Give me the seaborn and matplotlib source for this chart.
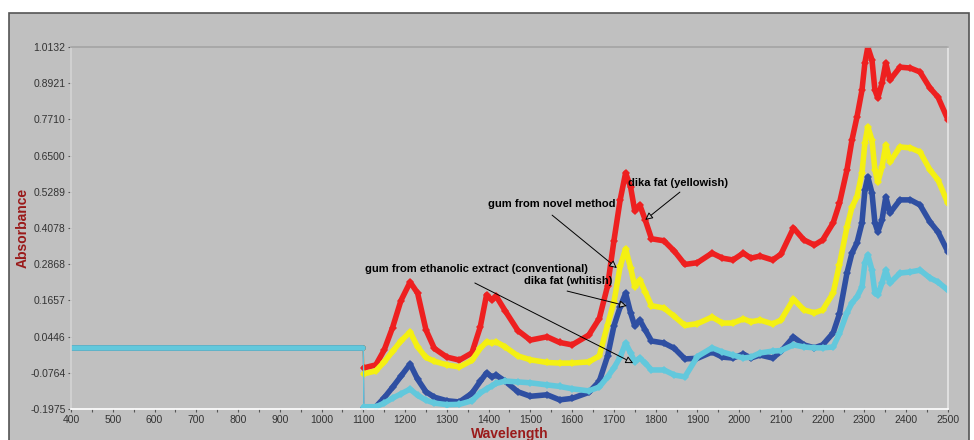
import matplotlib.pyplot as plt
import seaborn as sns
import pandas as pd
from matplotlib.patches import Rectangle
from matplotlib.ticker import MultipleLocator

# flat baseline section (all four spectra share it)
flat_wl = [400, 500, 600, 700, 800, 900, 1000, 1100]
flat_abs = [0.005, 0.005, 0.005, 0.005, 0.005, 0.005, 0.005, 0.005]

wl = [1101, 1130, 1150, 1170, 1190, 1212, 1230, 1250, 1270, 1300, 1330, 1360, 1380, 1395,
      1408, 1418, 1440, 1470, 1500, 1540, 1570, 1600, 1640, 1665, 1685, 1700, 1715, 1728,
      1740, 1750, 1762, 1775, 1790, 1820, 1845, 1870, 1900, 1935, 1960, 1985, 2010, 2028,
      2050, 2080, 2100, 2130, 2155, 2180, 2200, 2225, 2240, 2258, 2270, 2282, 2294, 2301,
      2308, 2318, 2325, 2332, 2342, 2351, 2361, 2385, 2410, 2433, 2457, 2476, 2500]

dika_yellowish = [-0.060, -0.050, 0.000, 0.075, 0.165, 0.227, 0.190, 0.067, 0.005, -0.024, -0.034,
                  -0.010, 0.077, 0.184, 0.167, 0.180, 0.130, 0.065, 0.033, 0.044, 0.025, 0.017,
                  0.050, 0.105, 0.215, 0.365, 0.502, 0.592, 0.545, 0.465, 0.485, 0.435, 0.372,
                  0.365, 0.330, 0.286, 0.292, 0.324, 0.307, 0.301, 0.324, 0.307, 0.314, 0.301,
                  0.320, 0.408, 0.368, 0.351, 0.368, 0.425, 0.490, 0.602, 0.702, 0.779, 0.869,
                  0.960, 1.013, 0.970, 0.869, 0.843, 0.893, 0.960, 0.903, 0.946, 0.943, 0.930,
                  0.876, 0.846, 0.770]

gum_novel = [-0.080, -0.070, -0.040, -0.005, 0.030, 0.060, 0.010, -0.025, -0.038, -0.050, -0.057,
             -0.035, 0.005, 0.027, 0.023, 0.027, 0.010, -0.020, -0.033, -0.042, -0.044, -0.044,
             -0.040, -0.020, 0.085, 0.160, 0.280, 0.338, 0.275, 0.212, 0.234, 0.194, 0.148,
             0.140, 0.112, 0.082, 0.088, 0.110, 0.090, 0.090, 0.104, 0.094, 0.100, 0.087,
             0.100, 0.170, 0.134, 0.124, 0.134, 0.190, 0.285, 0.411, 0.478, 0.512, 0.592,
             0.692, 0.746, 0.702, 0.602, 0.562, 0.612, 0.686, 0.629, 0.679, 0.676, 0.662,
             0.602, 0.569, 0.490]

dika_whitish = [-0.194, -0.190, -0.160, -0.125, -0.088, -0.047, -0.098, -0.140, -0.158, -0.170,
                -0.174, -0.145, -0.105, -0.077, -0.090, -0.084, -0.105, -0.140, -0.155, -0.150,
                -0.167, -0.162, -0.142, -0.105, -0.020, 0.080, 0.144, 0.190, 0.124, 0.080,
                0.100, 0.067, 0.030, 0.023, 0.005, -0.030, -0.028, -0.007, -0.024, -0.027,
                -0.014, -0.027, -0.017, -0.027, -0.005, 0.043, 0.017, 0.007, 0.017, 0.057,
                0.120, 0.257, 0.324, 0.358, 0.425, 0.535, 0.579, 0.525, 0.425, 0.395, 0.435,
                0.512, 0.458, 0.502, 0.502, 0.485, 0.428, 0.395, 0.328]

gum_ethanolic = [-0.190, -0.190, -0.178, -0.161, -0.147, -0.131, -0.152, -0.168, -0.178, -0.183,
                 -0.182, -0.170, -0.144, -0.130, -0.120, -0.112, -0.104, -0.107, -0.110, -0.117,
                 -0.122, -0.130, -0.137, -0.124, -0.090, -0.060, -0.024, 0.023, -0.010, -0.040,
                 -0.027, -0.044, -0.067, -0.067, -0.084, -0.090, -0.022, 0.007, -0.007, -0.017,
                 -0.027, -0.024, -0.010, -0.004, -0.002, 0.017, 0.010, 0.007, 0.007, 0.010,
                 0.055, 0.124, 0.157, 0.177, 0.210, 0.291, 0.318, 0.267, 0.190, 0.184, 0.224,
                 0.267, 0.224, 0.257, 0.261, 0.267, 0.241, 0.227, 0.200]

series = ["dika fat (yellowish)", "gum from novel method", "dika fat (whitish)",
          "gum from ethanolic extract (conventional)"]
values = [dika_yellowish, gum_novel, dika_whitish, gum_ethanolic]
colors = ["#ee2020", "#f4f012", "#2f4fa2", "#62c8dc"]

ytick_labels = ["-0.1975", "-0.0764", "0.0446", "0.1657", "0.2868", "0.4078",
                "0.5289", "0.6500", "0.7710", "0.8921", "1.0132"]

sns.set_theme(style="white")
plt.rcParams['font.family'] = ['Liberation Sans', 'DejaVu Sans']

fig = plt.figure(figsize=(9.74, 4.4), dpi=100)
fig.patch.set_facecolor("white")
fig.patches.append(Rectangle((9 / 974, -0.01), 0.995 - 9 / 974, 1.01 - 13 / 440,
                             transform=fig.transFigure, fc="#c0c0c0", ec="#555555",
                             lw=1.2, zorder=-1))

ax = fig.add_axes([0.0729, 0.0705, 0.9004, 0.8225])
ax.set_facecolor("#c0c0c0")

for name, vals, col in zip(series, values, colors):
    df = pd.DataFrame({"Wavelength": wl, "Absorbance": vals})
    base = pd.DataFrame({"Wavelength": flat_wl, "Absorbance": flat_abs})
    sns.lineplot(data=base, x="Wavelength", y="Absorbance", color=col, lw=4,
                 solid_capstyle="round", ax=ax)
    # thin vertical step where the scan starts
    ax.plot([flat_wl[-1], wl[0]], [flat_abs[-1], vals[0]], color=col, lw=0.8)
    sns.lineplot(data=df, x="Wavelength", y="Absorbance", color=col, lw=4,
                 marker="D", markersize=4.5, markeredgewidth=0, ax=ax)

ax.set_xlim(400, 2500)
ax.set_ylim(float(ytick_labels[0]), float(ytick_labels[-1]))
ax.xaxis.set_major_locator(MultipleLocator(100))
ax.xaxis.set_minor_locator(MultipleLocator(50))
ax.set_yticks([float(s) for s in ytick_labels])
ax.set_yticklabels(ytick_labels)
ax.tick_params(axis="both", which="both", length=2, width=0.8, color="#555555",
               labelsize=7.5, labelcolor="#333333", pad=2, left=True, bottom=True)

for side, c in [("top", "#a4a4a4"), ("left", "#d4d4d4"), ("bottom", "white"), ("right", "#e6e6e6")]:
    ax.spines[side].set_color(c)
    ax.spines[side].set_linewidth(1.2)

ax.set_xlabel("Wavelength", color="#9a1a1a", fontsize=10, fontweight="bold", labelpad=2)
ax.set_ylabel("Absorbance", color="#9a1a1a", fontsize=10, fontweight="bold", labelpad=0)

# labels with hollow-headed arrows
label_x = [1734, 1398, 1485, 1104]
label_y = [0.558, 0.488, 0.231, 0.271]
arrow_from = [(1858, 0.528), (1552, 0.451), (1588, 0.197), (1367, 0.224)]
arrow_to = [(1775, 0.435), (1707, 0.274), (1731, 0.147), (1746, -0.044)]
for name, lx, ly, a0, a1 in zip(series, label_x, label_y, arrow_from, arrow_to):
    ax.text(lx, ly, name, fontsize=8, fontweight="bold", color="black", va="center", ha="left")
    ax.annotate("", xy=a1, xytext=a0,
                arrowprops=dict(arrowstyle="-|>", fc="#c0c0c0", ec="black", lw=0.7,
                                mutation_scale=11, shrinkA=0, shrinkB=0))

plt.savefig("out.png", dpi=100)
